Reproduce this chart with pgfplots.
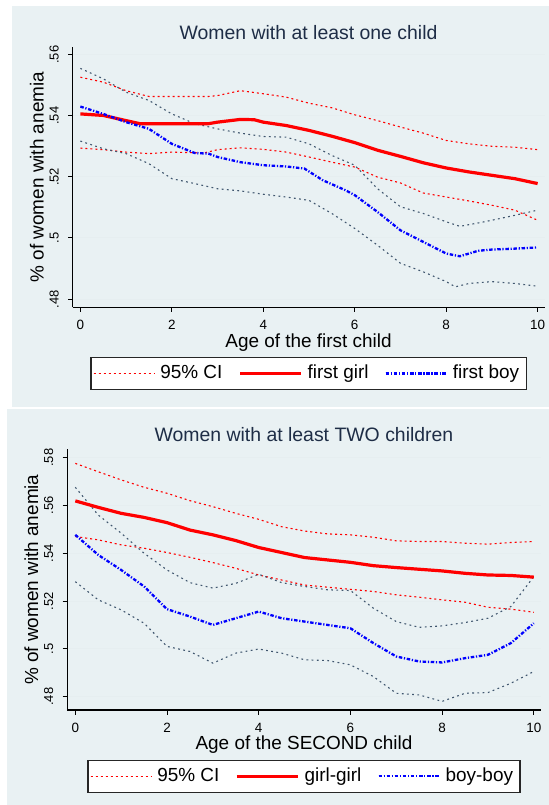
\documentclass[border=0pt]{standalone}
\usepackage{fontspec}
\setmainfont{Liberation Sans}
\usepackage{pgfplots}
\pgfplotsset{compat=1.18}
\definecolor{bgc}{RGB}{233,241,243}
\definecolor{gridc}{RGB}{230,238,240}
\definecolor{cigray}{RGB}{64,86,110}
\definecolor{titc}{RGB}{30,45,70}
\definecolor{sred}{RGB}{255,0,0}
\definecolor{sblue}{RGB}{0,0,255}
\tikzset{
  cired/.style={color=sred, line width=1.1bp, dash pattern=on 2bp off 3bp},
  cigr/.style={color=cigray, line width=1.1bp, dash pattern=on 1.8bp off 3.4bp},
  girl/.style={color=sred, line width=3.2bp},
  boy/.style={color=sblue, line width=2.3bp, dash pattern=on 3.5bp off 1.7bp on 1.2bp off 1.7bp},
}
\pgfplotsset{
 stata/.style={
  scale only axis,
  anchor=south west,
  axis lines*=left,
  axis line style={-, line width=1.1bp, black},
  tick align=outside,
  major tick length=4.5bp,
  tick style={line width=1bp, black},
  xtick={0,2,4,6,8,10},
  xticklabels={0,2,4,6,8,10},
  ymajorgrids,
  grid style={line width=1bp, gridc},
  xticklabel style={font=\fontsize{13.5}{15}\selectfont, yshift=-5bp},
  yticklabel style={font=\fontsize{13}{15}\selectfont, xshift=-9.5bp, rotate=90, anchor=base},
  every axis title/.style={at={(axis description cs:0.5,1.028)}, anchor=base, font=\fontsize{19.5}{22}\selectfont, text=titc},
  xlabel style={at={(axis description cs:0.5,-0.153)}, anchor=base, font=\fontsize{19}{22}\selectfont},
  ylabel style={at={(axis description cs:-0.0615,0.5)}, anchor=base, font=\fontsize{19}{22}\selectfont},
  legend columns=3,
  legend cell align=left,
  legend image code/.code={\path (0bp,0bp) -- (61bp,0bp);\draw[##1] (0bp,0bp) -- (52bp,0bp);},
  legend style={at={(axis description cs:0.5,-0.254)}, anchor=center, draw=black!85, line width=1.3bp, fill=white,
     font=\fontsize{19}{22}\selectfont, inner xsep=2bp, inner ysep=7.3bp,
     nodes={inner xsep=5bp, inner ysep=0bp, text height=13.6bp, text depth=3.8bp},
     /tikz/every even column/.append style={column sep=11bp}},
 }
}
\begin{document}
\begin{tikzpicture}
\fill[white] (0bp,0bp) rectangle (549bp,805bp);
\fill[bgc] (12bp,398bp) rectangle (549bp,799bp);
\fill[bgc] (7bp,0bp) rectangle (549bp,396bp);
% ---------------- top panel
\begin{axis}[stata, at={(72.6bp,497.7bp)}, width=471.9bp, height=260.3bp,
  xmin=-0.17, xmax=10.15, ymin=0.4773, ymax=0.5625,
  ytick={0.48,0.5,0.52,0.54,0.56}, yticklabels={.48,.5,.52,.54,.56},
  title={Women with at least one child},
  xlabel={Age of the first child}, ylabel={\% of women with anemia}]
\addlegendimage{draw=sred, line width=1.4bp, dash pattern=on 2bp off 3bp}\addlegendentry{95\% CI}
\addlegendimage{girl}\addlegendentry{first girl}
\addlegendimage{boy}\addlegendentry{first boy}
% girl upper CI
\addplot[cired, forget plot] coordinates {(0,.5526)(0.5,.5510)(1,.5482)(1.5,.5463)(2,.5463)(2.8,.5463)(3,.5466)(3.5,.5482)(4,.5472)(4.5,.5461)(5,.5441)(5.5,.5426)(6,.5403)(6.5,.5384)(7,.5363)(7.5,.5343)(8,.5319)(8.5,.5308)(9,.5300)(9.5,.5297)(10,.5289)};
% girl lower CI
\addplot[cired, forget plot] coordinates {(0,.5294)(0.5,.5289)(1,.5281)(1.5,.5276)(2,.5281)(2.7,.5278)(3,.5289)(3.5,.5295)(4,.5290)(4.5,.5281)(5,.5265)(5.5,.5248)(6,.5232)(6.5,.5199)(7,.5180)(7.5,.5147)(8,.5134)(8.5,.5121)(9,.5107)(9.5,.5091)(10,.5058)};
% boy upper CI
\addplot[cigr, forget plot] coordinates {(0,.5555)(0.5,.5521)(1,.5477)(1.5,.5450)(2,.5406)(2.5,.5374)(3,.5357)(3.5,.5343)(4,.5332)(4.5,.5330)(5,.5308)(5.5,.5270)(6,.5238)(6.5,.5161)(7,.5102)(7.5,.5080)(8,.5053)(8.3,.5038)(8.7,.5049)(9,.5058)(9.5,.5074)(10,.5091)};
% boy lower CI
\addplot[cigr, forget plot] coordinates {(0,.5317)(0.5,.5292)(1,.5276)(1.5,.5243)(2,.5194)(2.5,.5178)(3,.5161)(3.5,.5154)(4,.5143)(4.5,.5134)(5,.5123)(5.5,.5080)(6,.5031)(6.5,.4976)(7,.4917)(7.5,.4889)(8,.4857)(8.2,.4840)(8.5,.4851)(9,.4857)(9.5,.4851)(10,.4842)};
% girl
\addplot[girl, forget plot] coordinates {(0,.5406)(0.5,.5401)(1,.5384)(1.3,.5374)(2,.5374)(2.8,.5374)(3,.5379)(3.5,.5388)(3.8,.5387)(4,.5379)(4.5,.5368)(5,.5352)(5.5,.5333)(6,.5312)(6.5,.5287)(7,.5267)(7.5,.5246)(8,.5229)(8.5,.5216)(9,.5205)(9.5,.5194)(10,.5178)};
% boy
\addplot[boy, forget plot] coordinates {(0,.5430)(0.5,.5406)(1,.5379)(1.5,.5357)(2,.5308)(2.5,.5278)(2.8,.5276)(3,.5265)(3.5,.5248)(4,.5238)(4.5,.5234)(4.9,.5227)(5.3,.5189)(5.8,.5156)(6,.5140)(6.5,.5085)(7,.5025)(7.5,.4987)(8,.4949)(8.3,.4940)(8.7,.4958)(9,.4962)(9.5,.4965)(10,.4969)};
\end{axis}
% ---------------- bottom panel
\begin{axis}[stata, at={(67.2bp,95bp)}, width=473.5bp, height=260.7bp,
  xmin=-0.177, xmax=10.15, ymin=0.4744, ymax=0.5835,
  ytick={0.48,0.5,0.52,0.54,0.56,0.58}, yticklabels={.48,.5,.52,.54,.56,.58},
  title={Women with at least TWO children},
  xlabel={Age of the SECOND child}, ylabel={\% of women with anemia}]
\addlegendimage{draw=sred, line width=1.4bp, dash pattern=on 2bp off 3bp}\addlegendentry{95\% CI}
\addlegendimage{girl}\addlegendentry{girl-girl}
\addlegendimage{boy}\addlegendentry{boy-boy}
% girl upper CI
\addplot[cired, forget plot] coordinates {(0,.5776)(0.5,.5741)(1,.5707)(1.5,.5676)(2,.5651)(2.5,.5620)(3,.5595)(3.5,.5567)(4,.5542)(4.5,.5511)(5,.5493)(5.5,.5481)(6,.5477)(6.5,.5467)(7,.5452)(7.5,.5449)(8,.5449)(8.5,.5442)(9,.5438)(9.5,.5445)(10,.5449)};
% girl lower CI
\addplot[cired, forget plot] coordinates {(0,.5470)(0.5,.5456)(1,.5435)(1.5,.5421)(2,.5403)(2.5,.5383)(3,.5361)(3.5,.5337)(4,.5309)(4.5,.5288)(5,.5267)(5.5,.5258)(6,.5249)(6.5,.5240)(7,.5226)(7.5,.5216)(8,.5205)(8.5,.5195)(9,.5174)(9.5,.5166)(10,.5153)};
% boy upper CI
\addplot[cigr, forget plot] coordinates {(0,.5676)(0.5,.5560)(1,.5484)(1.5,.5400)(2,.5330)(2.5,.5277)(3,.5254)(3.5,.5274)(4,.5312)(4.5,.5277)(5,.5261)(5.5,.5247)(6,.5244)(6.5,.5170)(7,.5114)(7.5,.5090)(8,.5096)(8.5,.5110)(9,.5128)(9.5,.5177)(10,.5302)};
% boy lower CI
\addplot[cigr, forget plot] coordinates {(0,.5281)(0.5,.5205)(1,.5163)(1.5,.5107)(2,.5010)(2.5,.4989)(3,.4940)(3.5,.4982)(4,.4999)(4.5,.4982)(5,.4954)(5.5,.4951)(6,.4933)(6.5,.4884)(7,.4814)(7.5,.4807)(8,.4780)(8.5,.4814)(9,.4817)(9.5,.4856)(10,.4905)};
% girl-girl
\addplot[girl, forget plot] coordinates {(0,.5619)(0.5,.5592)(1,.5567)(1.5,.5550)(2,.5528)(2.5,.5497)(3,.5477)(3.5,.5453)(4,.5424)(4.5,.5403)(5,.5382)(5.5,.5372)(6,.5362)(6.5,.5348)(7,.5340)(7.5,.5333)(8,.5326)(8.5,.5316)(9,.5309)(9.5,.5307)(10,.5300)};
% boy-boy
\addplot[boy, forget plot] coordinates {(0,.5477)(0.5,.5393)(1,.5330)(1.5,.5261)(2,.5166)(2.5,.5135)(3,.5100)(3.5,.5128)(4,.5156)(4.5,.5128)(5,.5114)(5.5,.5100)(6,.5086)(6.5,.5024)(7,.4968)(7.5,.4947)(8,.4943)(8.5,.4961)(9,.4975)(9.5,.5024)(10,.5107)};
\end{axis}
\end{tikzpicture}
\end{document}
